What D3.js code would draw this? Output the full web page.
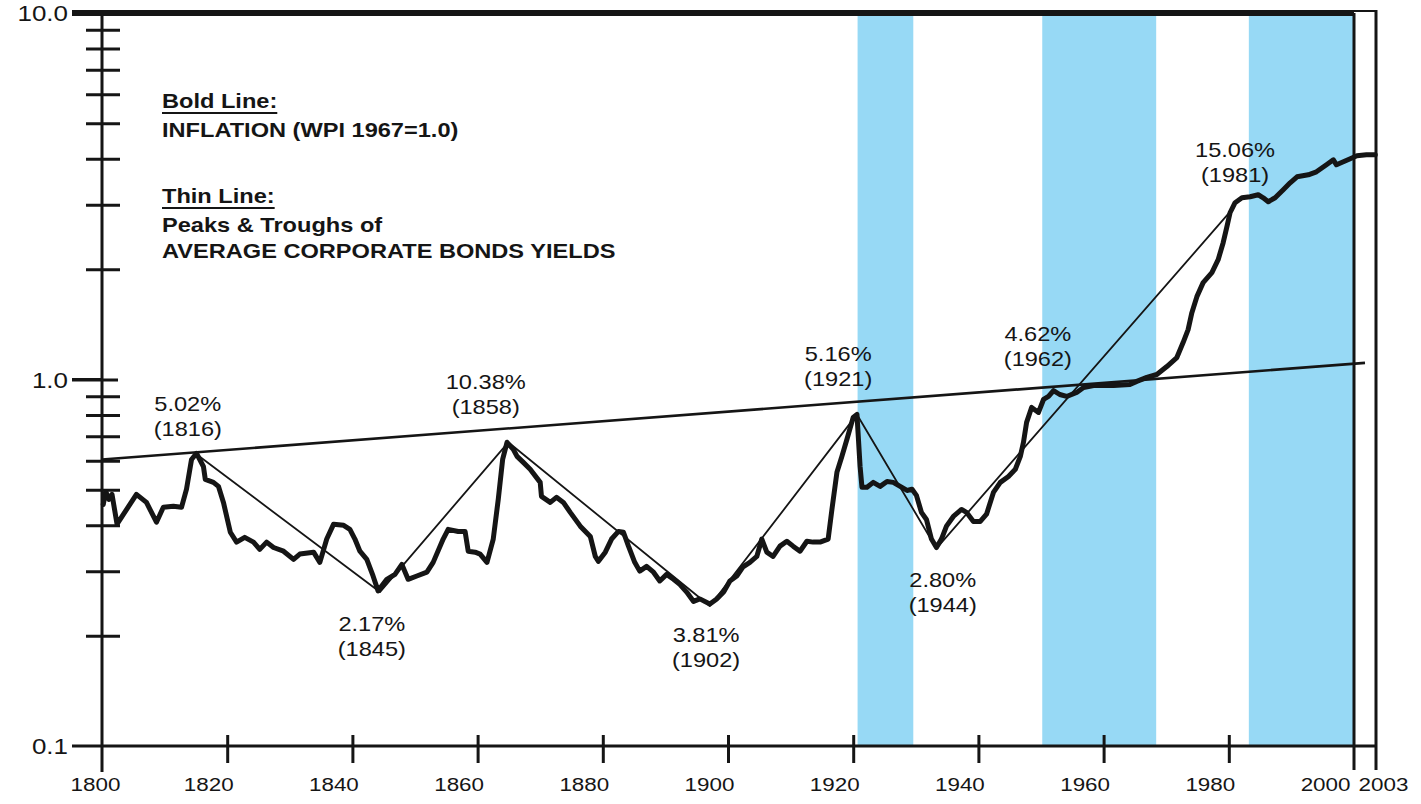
<!DOCTYPE html>
<html>
<head>
<meta charset="utf-8">
<script src="https://cdn.jsdelivr.net/npm/d3@7"></script>
<style>
  html, body { margin: 0; padding: 0; background: #ffffff; }
  svg { display: block; }
  text { font-family: "Liberation Sans", Arial, Helvetica, sans-serif; fill: #151515; }
</style>
</head>
<body>
<svg id="chart" width="1421" height="804"></svg>
<script>
// ---- data ---------------------------------------------------------------

// Wholesale price index (1967 = 1.0): [year, index]
const wpi = [
  [1800.2,0.456],[1800.6,0.495],[1801.1,0.471],[1801.6,0.486],[1802.4,0.403],[1805.5,0.486],
  [1807.1,0.462],[1808.7,0.408],[1809.8,0.448],[1811.4,0.451],[1812.7,0.448],[1813.5,0.502],
  [1814.3,0.605],[1815.1,0.629],[1816.2,0.579],[1816.5,0.534],[1817.8,0.524],[1818.6,0.511],
  [1819.4,0.462],[1820.5,0.383],[1821.5,0.360],[1822.8,0.371],[1824.2,0.360],[1825.2,0.344],
  [1826.3,0.360],[1827.4,0.348],[1829.0,0.340],[1830.6,0.323],[1831.6,0.334],[1833.8,0.338],
  [1834.8,0.317],[1835.9,0.367],[1837.0,0.403],[1838.6,0.400],[1839.6,0.390],[1840.4,0.367],
  [1841.2,0.340],[1842.3,0.323],[1843.3,0.291],[1844.1,0.265],[1845.5,0.285],[1846.8,0.294],
  [1847.9,0.313],[1848.9,0.285],[1850.3,0.291],[1851.9,0.298],[1852.9,0.317],[1854.5,0.367],
  [1855.3,0.390],[1856.9,0.385],[1858.0,0.385],[1858.5,0.340],[1859.6,0.338],[1860.4,0.334],
  [1861.5,0.317],[1862.5,0.367],[1863.3,0.471],[1864.0,0.605],[1864.7,0.674],[1865.7,0.645],
  [1866.3,0.617],[1867.3,0.594],[1868.4,0.569],[1870.0,0.524],[1870.2,0.480],[1871.6,0.462],
  [1872.6,0.477],[1873.7,0.462],[1874.8,0.434],[1876.4,0.398],[1878.0,0.373],[1878.8,0.329],
  [1879.3,0.319],[1880.4,0.338],[1881.4,0.367],[1882.5,0.385],[1883.3,0.383],[1884.1,0.351],
  [1885.1,0.317],[1885.9,0.300],[1887.0,0.309],[1888.1,0.298],[1889.1,0.282],[1890.2,0.294],
  [1891.3,0.285],[1892.3,0.276],[1893.4,0.263],[1894.5,0.248],[1895.5,0.252],[1897.1,0.244],
  [1898.2,0.252],[1899.3,0.263],[1900.3,0.282],[1901.4,0.291],[1902.4,0.308],[1903.5,0.317],
  [1904.6,0.329],[1905.4,0.367],[1906.2,0.338],[1907.2,0.329],[1908.3,0.351],[1909.4,0.362],
  [1910.4,0.351],[1911.5,0.340],[1912.6,0.362],[1913.6,0.360],[1914.7,0.360],[1916.0,0.367],
  [1916.6,0.442],[1917.4,0.558],[1918.2,0.617],[1919.0,0.687],[1920.0,0.788],[1920.6,0.803],
  [1921.1,0.579],[1921.4,0.508],[1922.2,0.508],[1923.2,0.524],[1924.3,0.511],[1925.4,0.527],
  [1926.4,0.524],[1927.5,0.511],[1928.6,0.498],[1929.4,0.502],[1930.1,0.483],[1930.9,0.434],
  [1931.7,0.415],[1932.5,0.367],[1933.3,0.348],[1934.1,0.367],[1934.9,0.398],[1936.0,0.423],
  [1937.3,0.442],[1938.1,0.434],[1939.2,0.410],[1940.3,0.410],[1941.3,0.429],[1942.4,0.492],
  [1943.5,0.524],[1944.8,0.544],[1945.9,0.569],[1946.7,0.617],[1947.2,0.674],[1947.7,0.764],
  [1948.5,0.839],[1949.6,0.813],[1950.4,0.882],[1951.2,0.899],[1952.0,0.933],[1953.0,0.910],
  [1954.1,0.899],[1955.7,0.922],[1956.8,0.951],[1958.4,0.963],[1961.6,0.963],[1964.2,0.969],
  [1965.3,0.988],[1966.9,1.013],[1968.5,1.032],[1970.1,1.085],[1971.7,1.148],[1972.7,1.261],
  [1973.5,1.368],[1974.1,1.522],[1974.9,1.683],[1975.9,1.838],[1977.3,1.957],[1978.3,2.123],
  [1979.1,2.362],[1979.7,2.612],[1980.2,2.851],[1981.0,3.036],[1982.1,3.132],[1983.4,3.152],
  [1984.7,3.192],[1985.5,3.132],[1986.3,3.055],[1987.4,3.132],[1988.7,3.294],[1989.8,3.441],
  [1990.9,3.573],[1992.7,3.619],[1994.0,3.687],[1995.6,3.853],[1996.7,3.976],[1997.2,3.853],
  [1998.3,3.926],[1999.4,4.001],[2000.4,4.077],[2001.7,4.103],[2002.9,4.103]
];

// Peaks & troughs of average corporate bond yields, joined along the index
const peaksTroughs = [
  [1815.1,0.625],[1844.4,0.263],[1864.9,0.674],[1897.1,0.241],
  [1920.6,0.803],[1933.3,0.346],[1980.5,2.906]
];

// Long-term trend through the major peaks
const trend = [[1800,0.605],[2001.5,1.11]];

// Shaded periods [start, end]
const shadedPeriods = [[1920.7,1929.6],[1950.2,1968.4],[1983.2,2000]];

// Yield annotations
const yieldRates = ["5.02%","10.38%","2.17%","3.81%","5.16%","2.80%","4.62%","15.06%"];
const yieldYears = ["(1816)","(1858)","(1845)","(1902)","(1921)","(1944)","(1962)","(1981)"];
const yieldAnchor = [
  [1813.7,0.818],[1861.3,0.945],[1843.1,0.206],[1896.5,0.192],
  [1917.6,1.120],[1934.3,0.271],[1949.5,1.277],[1981.0,4.053]
];

// Legend
const legendBlocks = [
  { head: "Bold Line:", lines: ["INFLATION (WPI 1967=1.0)"] },
  { head: "Thin Line:", lines: ["Peaks & Troughs of", "AVERAGE CORPORATE BONDS YIELDS"] }
];

// Axes
const xTicks = [1800,1820,1840,1860,1880,1900,1920,1940,1960,1980,2000,2003];
const yTicks = [0.1,0.2,0.3,0.4,0.5,0.6,0.7,0.8,0.9,1,2,3,4,5,6,7,8,9,10];
const yTickLabels = { 0.1: "0.1", 1: "1.0", 10: "10.0" };

// ---- drawing ------------------------------------------------------------

const SX = 1.18;   // horizontal stretch of the lettering
const ink = "#151515";

const svg = d3.select("#chart");

const x = d3.scaleLinear().domain([1800, 2000, 2003]).range([102, 1354, 1376]);
const y = d3.scaleLog().domain([0.1, 10]).range([746, 13]);

// shaded bands
svg.append("g").selectAll("rect")
  .data(shadedPeriods)
  .join("rect")
  .attr("x", d => x(d[0]))
  .attr("width", d => x(d[1]) - x(d[0]))
  .attr("y", y(10))
  .attr("height", y(0.1) - y(10))
  .attr("fill", "#97d9f5");

// frame lines
const frame = svg.append("g").attr("stroke", ink).attr("stroke-linecap", "butt");
frame.append("line").attr("x1", 72).attr("x2", x(2000)).attr("y1", y(10)).attr("y2", y(10)).attr("stroke-width", 6);
frame.append("line").attr("x1", x(2000)).attr("x2", x(2003) + 1).attr("y1", y(10) - 2).attr("y2", y(10) - 2).attr("stroke-width", 2);
frame.append("line").attr("x1", 72).attr("x2", x(2003) + 1).attr("y1", y(0.1)).attr("y2", y(0.1)).attr("stroke-width", 3);
frame.append("line").attr("x1", x(1800)).attr("x2", x(1800)).attr("y1", y(10)).attr("y2", y(0.1) + 26).attr("stroke-width", 3);
frame.append("line").attr("x1", x(2000)).attr("x2", x(2000)).attr("y1", y(10)).attr("y2", y(0.1) + 24).attr("stroke-width", 3);
frame.append("line").attr("x1", x(2003)).attr("x2", x(2003)).attr("y1", y(10) - 3).attr("y2", y(0.1) + 24).attr("stroke-width", 3);

// y axis
const yAxisG = svg.append("g")
  .attr("transform", `translate(${x(1800)},0)`)
  .call(d3.axisLeft(y).tickValues(yTicks).tickSize(0).tickPadding(0)
    .tickFormat(d => yTickLabels[d] || ""));
yAxisG.select(".domain").remove();
yAxisG.selectAll(".tick line")
  .attr("stroke", ink)
  .attr("stroke-width", 3)
  .attr("x1", d => (d === 1 ? -30 : -16))
  .attr("x2", d => (d === 1 ? 16 : 18))
  .attr("display", d => (d === 0.1 || d === 10 ? "none" : null));
yAxisG.selectAll(".tick line").filter(d => d === 1).attr("x1", -30);
yAxisG.selectAll(".tick text")
  .attr("fill", ink)
  .attr("text-anchor", "end")
  .attr("x", -34 / SX)
  .attr("dy", "0.36em")
  .attr("transform", `scale(${SX},1)`)
  .style("font-size", "22px")
  .style("font-family", "'Liberation Sans', Arial, sans-serif");
// lead-in strokes for the decade labels
svg.append("g").attr("stroke", ink).attr("stroke-width", 3)
  .selectAll("line").data([1]).join("line")
  .attr("x1", 72).attr("x2", x(1800)).attr("y1", d => y(d)).attr("y2", d => y(d));

// x axis
const xAxisG = svg.append("g")
  .attr("transform", `translate(0,${y(0.1)})`)
  .call(d3.axisBottom(x).tickValues(xTicks).tickSize(0).tickPadding(0).tickFormat(String));
xAxisG.select(".domain").remove();
xAxisG.selectAll(".tick line")
  .attr("stroke", ink)
  .attr("stroke-width", 3)
  .attr("y1", -11)
  .attr("y2", 17)
  .attr("display", d => (d === 1800 || d >= 2000 ? "none" : null));
xAxisG.selectAll(".tick text")
  .attr("fill", ink)
  .attr("transform", `scale(${SX},1)`)
  .attr("y", 45)
  .attr("dy", 0)
  .attr("text-anchor", d => (d === 2000 ? "end" : d === 2003 ? "start" : "middle"))
  .attr("x", d => {
    if (d === 1800) return -7 / SX;
    if (d === 2000) return -4 / SX;
    if (d === 2003) return -18 / SX;
    return -19 / SX;
  })
  .style("font-size", "19px")
  .style("font-family", "'Liberation Sans', Arial, sans-serif");

// lines
const line = d3.line().x(d => x(d[0])).y(d => y(d[1]));

svg.append("path").datum(trend)
  .attr("d", line).attr("fill", "none")
  .attr("stroke", ink).attr("stroke-width", 2.6);

svg.append("path").datum(peaksTroughs)
  .attr("d", line).attr("fill", "none")
  .attr("stroke", ink).attr("stroke-width", 1.8).attr("stroke-linejoin", "round");

svg.append("path").datum(wpi)
  .attr("d", line).attr("fill", "none")
  .attr("stroke", ink).attr("stroke-width", 5)
  .attr("stroke-linejoin", "round").attr("stroke-linecap", "round");

// stretched text helper
function label(parent, px, py, str, size, weight, anchor) {
  return parent.append("text")
    .attr("transform", `translate(${px},${py}) scale(${SX},1)`)
    .attr("text-anchor", anchor || "start")
    .style("font-size", size + "px")
    .style("font-weight", weight || "normal")
    .text(str);
}

// yield annotations
const notes = svg.append("g");
yieldAnchor.forEach((a, i) => {
  const px = x(a[0]), py = y(a[1]);
  label(notes, px, py, yieldRates[i], 20, "normal", "middle");
  label(notes, px, py + 25, yieldYears[i], 20, "normal", "middle");
});

// legend
const legend = svg.append("g");
let ly = 108;
legendBlocks.forEach((b, bi) => {
  const head = label(legend, 162, ly, b.head, 20, "bold", "start");
  const w = head.node().getComputedTextLength() * SX;
  legend.append("line")
    .attr("x1", 162).attr("x2", 162 + w)
    .attr("y1", ly + 5).attr("y2", ly + 5)
    .attr("stroke", ink).attr("stroke-width", 2);
  b.lines.forEach((t, j) => {
    label(legend, 162, ly + 29 + j * 26, t, 20, "bold", "start");
  });
  ly += 95;
});
</script>
</body>
</html>
